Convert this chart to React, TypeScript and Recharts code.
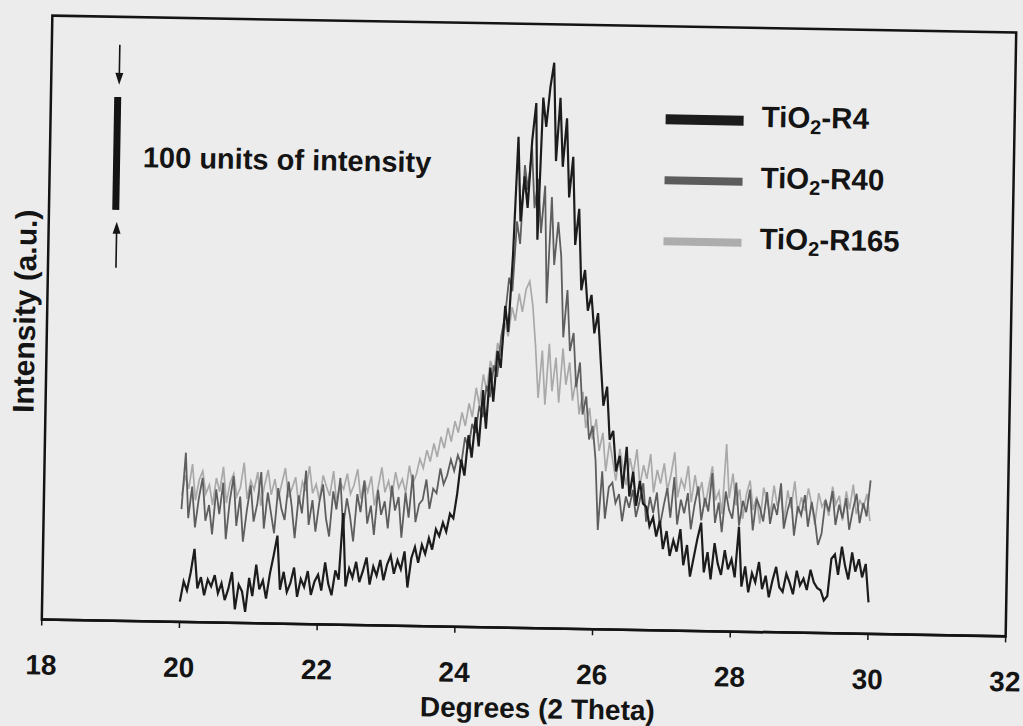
import React from 'react';
import { LineChart, Line, XAxis, YAxis, ReferenceArea, ReferenceLine } from 'recharts';

// scan grid: 20.00 .. 30.00 deg (2 theta), 0.05 step
const START_DEG = 20;
const STEP_DEG = 0.05;

const X_TICKS = [18, 20, 22, 24, 26, 28, 30, 32];

// intensities (a.u.)
const r4 = [
  18, 36, 28, 44, 65, 30, 40, 24, 38, 32,
  42, 26, 35, 20, 30, 45, 12, 34, 28, 10,
  40, 24, 52, 30, 38, 22, 44, 60, 78, 30,
  46, 28, 36, 50, 24, 40, 33, 47, 26, 38,
  44, 30, 55, 36, 26, 48, 40, 99, 34, 50,
  42, 56, 38, 48, 60, 36, 52, 44, 58, 40,
  54, 62, 46, 58, 50, 66, 34, 60, 70, 56,
  72, 64, 78, 68, 86, 80, 92, 84, 100, 96,
  118, 148, 134, 170, 150, 186, 160, 210, 176, 230,
  200, 245, 230, 285, 262, 330, 435, 360, 400, 372,
  432, 465, 344, 470, 444, 479, 501, 414, 470, 409,
  452, 382, 418, 340, 372, 300, 318, 282, 296, 262,
  280, 238, 198, 215, 168, 176, 140, 154, 125, 162,
  118, 140, 110, 132, 112, 109, 92, 100, 83, 97,
  72, 88, 66, 80, 70, 90, 58, 76, 48, 65,
  82, 96, 52, 70, 46, 78, 60, 50, 72, 55,
  64, 48, 93, 40, 58, 35, 52, 44, 62, 38,
  50, 31, 46, 58, 40, 36, 52, 44, 34, 55,
  42, 48, 38, 56, 45, 40, 38, 29, 33, 66,
  70, 52, 77, 60, 48, 72, 55, 66, 50, 62,
  28,
];

const r40 = [
  100, 150, 92, 120, 84, 110, 128, 90, 104, 78,
  118, 96, 124, 74, 108, 130, 86, 112, 72, 100,
  122, 90, 106, 134, 84, 116, 98, 80, 120, 102,
  92, 126, 104, 76, 114, 98, 136, 88, 110, 82,
  108, 124, 94, 78, 118, 102, 130, 86, 112, 96,
  74, 116, 100, 128, 90, 106, 80, 120, 98, 110,
  86, 124, 102, 114, 78, 118, 96, 134, 92, 108,
  112, 130, 104, 122, 118, 140, 126, 134, 148, 138,
  152, 144, 168, 158, 180, 172, 196, 186, 214, 204,
  232, 222, 258, 276, 310, 298, 360, 340, 410, 388,
  425, 372, 398, 350, 392, 288, 382, 322, 360, 330,
  258, 300, 246, 262, 214, 236, 190, 206, 168, 180,
  150, 88, 140, 98, 126, 130, 112, 120, 96, 118,
  108, 124, 100, 114, 130, 96, 118, 104, 122, 92,
  110, 126, 100, 136, 94, 116, 104, 122, 90, 112,
  128, 98, 118, 106, 140, 96, 114, 88, 124, 108,
  100, 132, 94, 116, 106, 126, 90, 118, 110, 98,
  124, 96, 114, 104, 132, 92, 108, 120, 86, 112,
  104, 122, 94, 116, 100, 78, 88, 118, 108, 126,
  96, 114, 102, 120, 92, 110, 124, 98, 116, 104,
  136,
];

const r165 = [
  112, 130, 118, 140, 108, 126, 134, 114, 122, 104,
  128, 116, 138, 106, 124, 132, 112, 120, 142, 110,
  126, 118, 134, 104, 122, 136, 114, 128, 110, 124,
  138, 112, 120, 130, 106, 126, 118, 140, 116, 124,
  110, 132, 122, 114, 136, 108, 126, 120, 134, 116,
  124, 138, 112, 128, 118, 132, 106, 122, 140, 118,
  128, 114, 136, 122, 130, 118, 142, 126, 134, 148,
  140, 156, 146, 162, 150, 168, 158, 176, 164, 182,
  172, 190, 178, 198, 186, 212, 196, 224, 210, 236,
  226, 252, 240, 270, 258, 284, 272, 296, 280, 300,
  307, 286, 250, 204, 246, 198, 252, 210, 240, 200,
  248, 216, 236, 202, 222, 190, 210, 178, 196, 168,
  186, 158, 174, 140, 166, 150, 132, 160, 144, 128,
  152, 138, 160, 128, 146, 134, 156, 122, 142, 130,
  148, 124, 138, 158, 118, 134, 126, 146, 114, 138,
  120, 132, 110, 128, 146, 116, 124, 104, 166, 118,
  140, 112, 126, 100, 122, 134, 108, 120, 96, 128,
  116, 104, 130, 112, 122, 98, 126, 110, 134, 106,
  120, 108, 128, 114, 96, 124, 112, 118, 104, 130,
  114, 122, 100, 126, 110, 132, 106, 118, 112, 124,
  100,
];

const data = r4.map((v, i) => ({
  deg: +(START_DEG + i * STEP_DEG).toFixed(2),
  r4: v,
  r40: r40[i],
  r165: r165[i],
}));

const FONT = '"Liberation Sans", Arial, sans-serif';
const INK = '#141414';

const Tick = (props: any) => {
  const { x, y, payload } = props;
  return (
    <text x={x} y={y} dy={47} textAnchor="middle" fontSize={28} fontWeight={700} fontFamily={FONT} fill={INK}>
      {payload.value}
    </text>
  );
};

const legend = [
  { name: 'R4', color: '#1c1c1c', w: 10, y: 117 },
  { name: 'R40', color: '#5c5c5c', w: 8, y: 178 },
  { name: 'R165', color: '#adadad', w: 8, y: 239 },
];

export default function App() {
  return (
    <div style={{ position: 'absolute', left: 0, top: 0, width: 1023, height: 726, background: '#ececec', overflow: 'hidden' }}>
      {/* the scanned figure sits about 1 degree clockwise */}
      <div style={{ position: 'absolute', left: 0, top: 0, width: 1060, height: 726, transform: 'rotate(1deg)', transformOrigin: '529px 326px' }}>
        <LineChart width={1060} height={726} data={data} margin={{ top: 24, right: 49, bottom: 38, left: 47 }}>
          <XAxis
            dataKey="deg"
            type="number"
            domain={[18, 32]}
            ticks={X_TICKS}
            interval={0}
            height={60}
            allowDataOverflow
            axisLine={{ stroke: INK, strokeWidth: 2.5 }}
            tickLine={{ stroke: INK, strokeWidth: 1.5 }}
            tickSize={6}
            tick={<Tick />}
          />
          <YAxis hide type="number" domain={[0, 535]} allowDataOverflow />
          <ReferenceArea x1={18} x2={32} y1={0} y2={535} fill="none" fillOpacity={0} stroke={INK} strokeWidth={2.5} ifOverflow="visible" />
          {/* 100 units of intensity bar */}
          <ReferenceLine segment={[{ x: 18.97, y: 364 }, { x: 18.97, y: 464 }]} stroke={INK} strokeWidth={7} ifOverflow="visible" />
          <Line type="linear" dataKey="r165" stroke="#a9a9a9" strokeWidth={1.7} dot={false} isAnimationActive={false} />
          <Line type="linear" dataKey="r40" stroke="#5e5e5e" strokeWidth={1.8} dot={false} isAnimationActive={false} />
          <Line type="linear" dataKey="r4" stroke="#1c1c1c" strokeWidth={2.2} dot={false} isAnimationActive={false} />
        </LineChart>
        <svg width={1060} height={726} style={{ position: 'absolute', left: 0, top: 0, pointerEvents: 'none' }}>
          <g fontFamily={FONT} fontWeight={700} fill={INK}>
            {/* arrows around the scale bar */}
            <line x1={115} y1={52} x2={115} y2={82} stroke={INK} strokeWidth={1.6} />
            <polygon points="111,80 119,80 115,92" fill={INK} />
            <line x1={115} y1={240} x2={115} y2={275} stroke={INK} strokeWidth={1.6} />
            <polygon points="111,241 119,241 115,229" fill={INK} />
            <text x={140} y={174} fontSize={29}>100 units of intensity</text>

            {legend.map((l) => (
              <g key={l.name}>
                <line x1={662} y1={l.y} x2={740} y2={l.y} stroke={l.color} strokeWidth={l.w} />
                <text x={758} y={l.y + 6} fontSize={29.5}>
                  TiO<tspan fontSize={20} dy={6}>2</tspan>
                  <tspan dy={-6}>-{l.name}</tspan>
                </text>
              </g>
            ))}

            <text x={544} y={718} fontSize={28} textAnchor="middle">Degrees (2 Theta)</text>
            <text x={35} y={320} fontSize={30} textAnchor="middle" transform="rotate(-90 35 320)">Intensity (a.u.)</text>
          </g>
        </svg>
      </div>
    </div>
  );
}
